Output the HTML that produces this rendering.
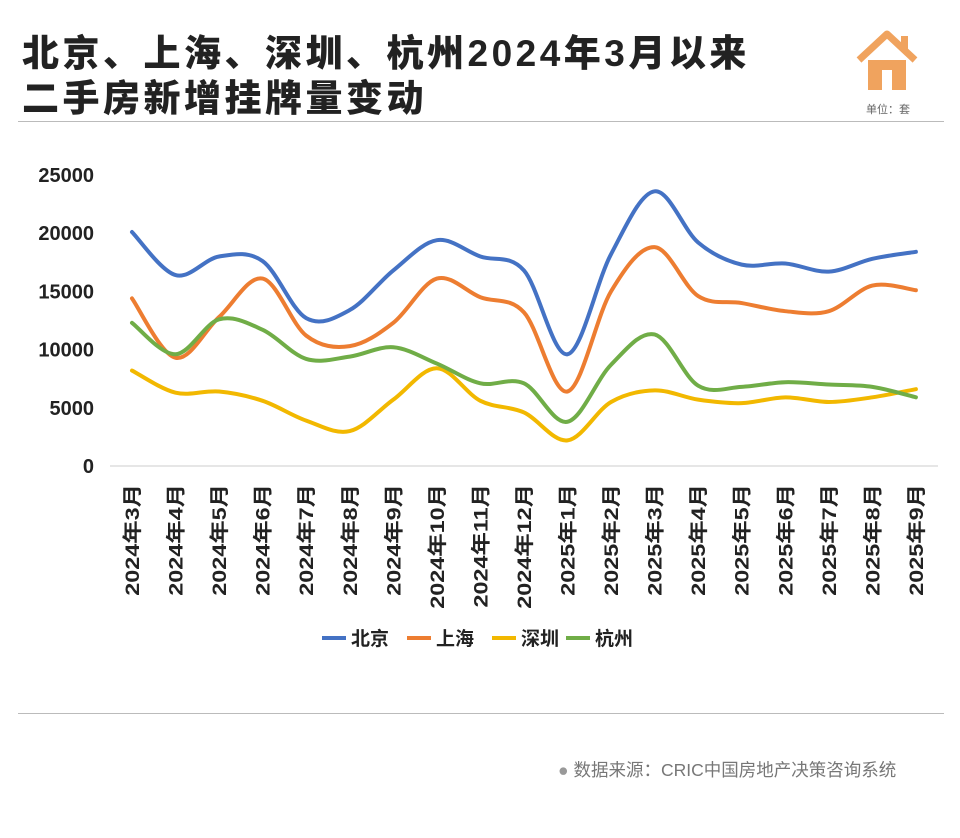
<!DOCTYPE html>
<html><head><meta charset="utf-8">
<style>
body{margin:0;background:#fff;}
#root{position:relative;width:960px;height:838px;overflow:hidden;font-family:"Liberation Sans","Noto Sans CJK SC",sans-serif;}
.title{position:absolute;left:22px;font-size:37px;font-weight:900;color:#222;letter-spacing:3.5px;line-height:44px;}
</style></head><body>
<div id="root">
<div class="title" style="top:32px">北京、上海、深圳、杭州2024年3月以来</div>
<div class="title" style="top:77px">二手房新增挂牌量变动</div>
<svg style="position:absolute;left:855px;top:28px" width="64" height="66" viewBox="0 0 64 66">
<path d="M4 32 L32 6 L60 32" fill="none" stroke="#f0a35e" stroke-width="7" stroke-linejoin="round"/>
<rect x="46" y="8" width="7" height="14" fill="#f0a35e"/>
<rect x="13" y="32" width="38" height="30" fill="#f0a35e"/>
<rect x="27" y="42" width="10" height="20" fill="#fff"/>
</svg>
<div style="position:absolute;left:866px;top:101px;font-size:11px;color:#666">单位：套</div>
<div style="position:absolute;left:18px;top:121px;width:926px;height:1px;background:#bbb"></div>
<svg id="chart" style="position:absolute;left:0;top:0" width="960" height="720"></svg>
<div style="position:absolute;left:18px;top:713px;width:926px;height:1px;background:#bbb"></div>
<div style="position:absolute;left:558px;top:757px;font-size:17.5px;color:#777"><span style="color:#999">●</span> 数据来源：CRIC中国房地产决策咨询系统</div>
</div>
<script>
const categories=["2024年3月","2024年4月","2024年5月","2024年6月","2024年7月","2024年8月","2024年9月","2024年10月","2024年11月","2024年12月","2025年1月","2025年2月","2025年3月","2025年4月","2025年5月","2025年6月","2025年7月","2025年8月","2025年9月"];
const beijing=[20100,16400,18000,17600,12700,13400,16800,19400,18000,16800,9600,18200,23600,19200,17300,17400,16700,17800,18400];
const shanghai=[14400,9300,12800,16100,11200,10300,12300,16100,14500,13200,6400,15000,18800,14600,14000,13300,13300,15500,15100];
const shenzhen=[8200,6300,6400,5600,3900,3000,5700,8400,5600,4600,2200,5500,6500,5700,5400,5900,5500,5900,6600];
const hangzhou=[12300,9600,12600,11700,9200,9400,10200,8800,7100,7100,3800,8700,11300,6900,6800,7200,7000,6800,5900];
const seriesNames=["北京","上海","深圳","杭州"];
const yTicks=[0,5000,10000,15000,20000,25000];
const svg=document.getElementById('chart');
const NS="http://www.w3.org/2000/svg";
const x=i=>132+i*43.55;
const y=v=>466-v*(291/25000);
function mk(t,a){const e=document.createElementNS(NS,t);for(const k in a)e.setAttribute(k,a[k]);svg.appendChild(e);return e;}
yTicks.forEach(v=>{const t=mk('text',{x:94,y:y(v)+7,'text-anchor':'end','font-size':20,'font-weight':'bold',fill:'#222'});t.textContent=v;

});
const ax=mk('line',{x1:110,x2:938,y1:466,y2:466,stroke:'#ccc','stroke-width':1});


categories.forEach((c,i)=>{const t=mk('text',{transform:`translate(${x(i)+7},484) rotate(-90) scale(1.2,1)`,'text-anchor':'end','font-size':19.5,'font-weight':'bold',fill:'#222'});t.textContent=c;

});
function path(vals){const p=vals.map((v,i)=>[x(i),y(v)]);let d=`M${p[0][0]},${p[0][1]}`;
for(let i=0;i<p.length-1;i++){const p0=p[i-1]||p[i],p1=p[i],p2=p[i+1],p3=p[i+2]||p2;
d+=` C${p1[0]+(p2[0]-p0[0])/6},${p1[1]+(p2[1]-p0[1])/6} ${p2[0]-(p3[0]-p1[0])/6},${p2[1]-(p3[1]-p1[1])/6} ${p2[0]},${p2[1]}`;}return d;}
const data=[beijing,shanghai,shenzhen,hangzhou];
const colors=["#4472c4","#ed7d31","#f2b800","#70ad47"];
const names=["beijing-line","shanghai-line","shenzhen-line","hangzhou-line"];
data.forEach((s,k)=>{const e=mk('path',{d:path(s),fill:'none',stroke:colors[k],'stroke-width':4,'stroke-linecap':'round'});

});
const lx=[322,407,492,566];
seriesNames.forEach((n,k)=>{const l=mk('line',{x1:lx[k],x2:lx[k]+24,y1:638,y2:638,stroke:colors[k],'stroke-width':4});


const t=mk('text',{x:lx[k]+29,y:645,'font-size':19,'font-weight':'bold',fill:'#222'});t.textContent=n;

});
</script>
</body></html>
